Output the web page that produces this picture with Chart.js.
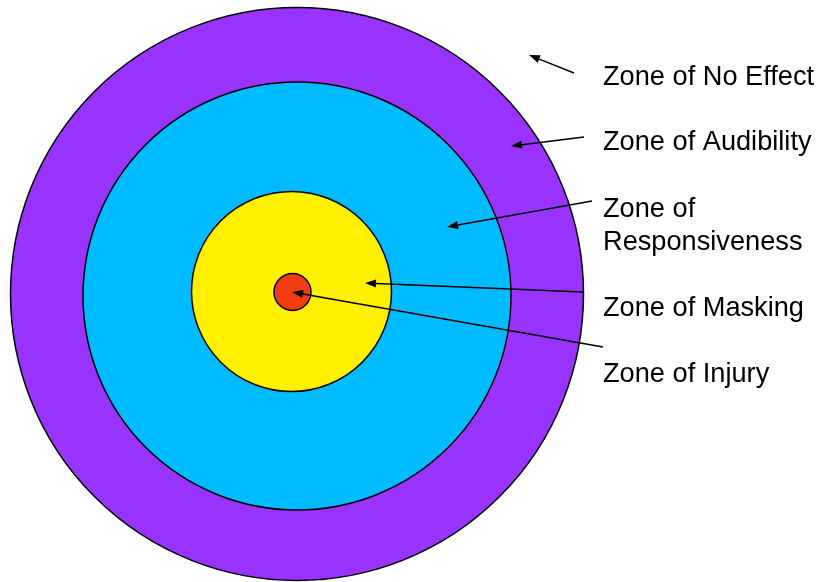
<!DOCTYPE html>
<html>
<head>
<meta charset="utf-8">
<script src="https://cdn.jsdelivr.net/npm/chart.js@4/dist/chart.umd.min.js"></script>
<style>
html,body{margin:0;padding:0;background:#fff;}
#wrap{width:817px;height:582px;position:relative;}
</style>
</head>
<body>
<div id="wrap"><canvas id="c"></canvas></div>
<script>
// Zones, outermost first (drawn first)
const zoneNames   = ["Zone of Audibility", "Zone of Responsiveness", "Zone of Masking", "Zone of Injury"];
const centerX     = [297, 297, 291.5, 292.5];
const centerY     = [294, 296, 291.5, 292];
const zoneRadius  = [286.5, 214, 100, 18.5];
const zoneColors  = ["#9933FF", "#00BBFF", "#FFF000", "#F33C12"];

// Callout labels and arrows (tail -> head), in diagram units
const labelLines  = [["Zone of No Effect"], ["Zone of Audibility"], ["Zone of", "Responsiveness"], ["Zone of Masking"], ["Zone of Injury"]];
const labelX      = [603, 603, 603, 603, 603];
const labelY      = [85, 150, 217, 316, 382];
const tailX       = [574, 584, 592, 583, 603];
const tailY       = [73, 137, 201, 292, 347];
const headX       = [529, 511, 447, 365, 292];
const headY       = [55, 146, 227, 283, 292];

const points = centerX.map((x, i) => ({x: x, y: centerY[i]}));

const calloutPlugin = {
  id: 'callouts',
  afterDatasetsDraw(chart) {
    const ctx = chart.ctx, xs = chart.scales.x, ys = chart.scales.y;
    ctx.save();
    ctx.strokeStyle = '#000';
    ctx.fillStyle = '#000';
    ctx.lineWidth = 1.5;
    for (let i = 0; i < tailX.length; i++) {
      const x1 = xs.getPixelForValue(tailX[i]), y1 = ys.getPixelForValue(tailY[i]);
      const x2 = xs.getPixelForValue(headX[i]), y2 = ys.getPixelForValue(headY[i]);
      const a = Math.atan2(y2 - y1, x2 - x1);
      const L = 11, W = 4;
      const bx = x2 - L * Math.cos(a), by = y2 - L * Math.sin(a);
      ctx.beginPath();
      ctx.moveTo(x1, y1);
      ctx.lineTo(bx, by);
      ctx.stroke();
      ctx.beginPath();
      ctx.moveTo(x2, y2);
      ctx.lineTo(bx + W * Math.sin(a), by - W * Math.cos(a));
      ctx.lineTo(bx - W * Math.sin(a), by + W * Math.cos(a));
      ctx.closePath();
      ctx.fill();
    }
    ctx.font = '27.2px "Liberation Sans", Arial, sans-serif';
    ctx.textBaseline = 'alphabetic';
    ctx.textAlign = 'left';
    for (let i = 0; i < labelLines.length; i++) {
      const x = xs.getPixelForValue(labelX[i]);
      labelLines[i].forEach((t, k) => {
        const y = ys.getPixelForValue(labelY[i] + k * 33);
        ctx.fillText(t, x, y);
      });
    }
    ctx.restore();
  }
};

new Chart(document.getElementById('c'), {
  type: 'scatter',
  data: {
    datasets: [{
      label: 'Zones',
      data: points,
      showLine: false,
      pointBackgroundColor: zoneColors,
      pointBorderColor: '#000',
      pointBorderWidth: 1.5,
      pointHoverBorderWidth: 1.5,
      clip: false,
      pointRadius: (c) => {
        const xs = c.chart.scales.x;
        if (!xs) return 0;
        const i = c.dataIndex;
        return xs.getPixelForValue(centerX[i] + zoneRadius[i]) - xs.getPixelForValue(centerX[i]);
      }
    }]
  },
  options: {
    responsive: true,
    maintainAspectRatio: false,
    animation: false,
    events: [],
    layout: {padding: 0},
    plugins: {legend: {display: false}, tooltip: {enabled: false}, title: {display: false}},
    scales: {
      x: {type: 'linear', min: 0, max: 817, display: false},
      y: {type: 'linear', min: 0, max: 582, reverse: true, display: false}
    }
  },
  plugins: [calloutPlugin]
});
</script>
</body>
</html>
